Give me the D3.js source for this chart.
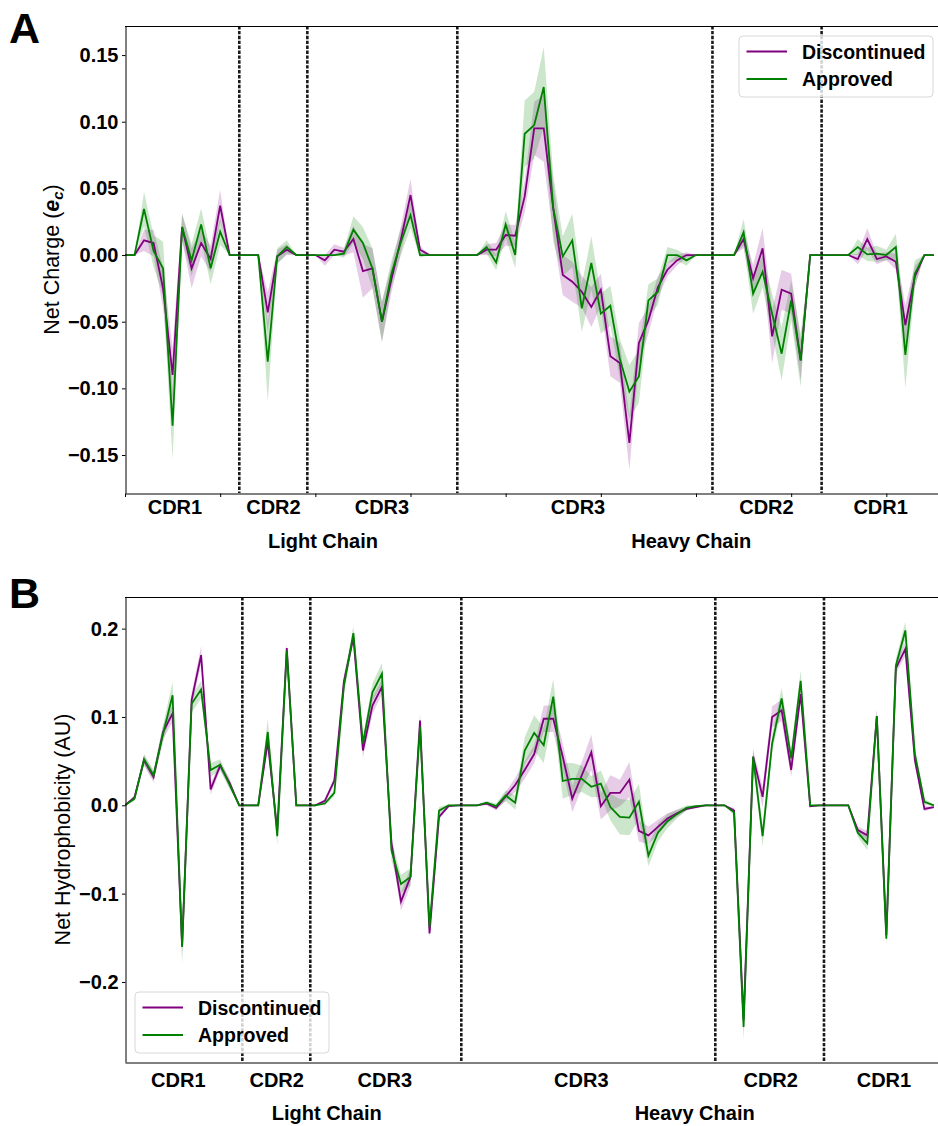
<!DOCTYPE html>
<html>
<head>
<meta charset="utf-8">
<script src="https://cdn.jsdelivr.net/npm/d3@7"></script>
<style>
  body { margin: 0; background: #fff; }
  svg text { font-family: "Liberation Sans", Arial, sans-serif; fill: #000; }
</style>
</head>
<body>
<div id="svg-container"></div>
<script>
// ---- data: per-residue means and CI half-widths (index 0..85) ----

// panel A: net charge
var discA = [
  0, 0, 0.011, 0.009, -0.025, -0.090, 0.021, -0.010, 0.009, -0.003,
  0.037, 0, 0, 0, 0, -0.043, -0.001, 0.004, 0, 0,
  0, -0.004, 0.004, 0.0025, 0.012, -0.012, -0.010, -0.050, -0.018, 0.012,
  0.045, 0.004, 0, 0, 0, 0, 0, 0, 0.004, 0.004,
  0.015, 0.0145, 0.044, 0.095, 0.095, 0.035, -0.015, -0.020, -0.0275, -0.039,
  -0.026, -0.076, -0.081, -0.141, -0.066, -0.049, -0.024, -0.011, -0.004, 0,
  0, 0, 0, 0, 0, 0.012, -0.0175, 0.005, -0.061, -0.026,
  -0.029, -0.079, 0, 0, 0, 0, 0, -0.003, 0.012, -0.003,
  -0.001, -0.005, -0.0525, -0.016, 0, 0
];
var apprA = [
  0, 0, 0.0345, 0.003, -0.010, -0.128, 0.021, -0.004, 0.023, -0.010,
  0.0175, 0, 0, 0, 0, -0.080, -0.001, 0.006, 0, 0,
  0, 0, 0, 0.001, 0.019, 0.009, -0.010, -0.050, -0.014, 0.010,
  0.030, 0, 0, 0, 0, 0, 0, 0, 0.006, -0.0055,
  0.023, 0, 0.091, 0.0975, 0.126, 0.035, -0.001, 0.011, -0.040, -0.006,
  -0.044, -0.038, -0.078, -0.1025, -0.091, -0.034, -0.0275, 0, 0, -0.004,
  0, 0, 0, 0, 0, 0.017, -0.029, -0.0125, -0.044, -0.074,
  -0.034, -0.079, 0, 0, 0, 0, 0, 0.006, 0.0005, 0.001,
  0, 0.006, -0.075, -0.014, 0, 0
];
var discAErr = [
  0, 0, 0.008, 0.01, 0.015, 0.02, 0.01, 0.015, 0.01, 0.01,
  0.012, 0, 0, 0, 0, 0.015, 0.005, 0.004, 0, 0,
  0, 0.004, 0.004, 0.003, 0.01, 0.02, 0.015, 0.015, 0.01, 0.01,
  0.012, 0.003, 0, 0, 0, 0, 0, 0, 0.004, 0.005,
  0.008, 0.008, 0.012, 0.02, 0.025, 0.02, 0.015, 0.015, 0.012, 0.015,
  0.012, 0.015, 0.015, 0.02, 0.015, 0.01, 0.008, 0.005, 0.004, 0.002,
  0, 0, 0, 0, 0, 0.007, 0.01, 0.015, 0.02, 0.015,
  0.015, 0.015, 0, 0, 0, 0, 0, 0.004, 0.008, 0.004,
  0.003, 0.006, 0.015, 0.008, 0, 0
];
var apprAErr = [
  0, 0, 0.013, 0.012, 0.02, 0.025, 0.01, 0.012, 0.012, 0.012,
  0.01, 0, 0, 0, 0, 0.03, 0.006, 0.005, 0, 0,
  0, 0, 0, 0.003, 0.01, 0.012, 0.015, 0.015, 0.01, 0.01,
  0.01, 0.002, 0, 0, 0, 0, 0, 0, 0.005, 0.006,
  0.01, 0.01, 0.025, 0.025, 0.03, 0.025, 0.015, 0.02, 0.018, 0.02,
  0.015, 0.015, 0.015, 0.02, 0.02, 0.012, 0.01, 0.006, 0.004, 0.004,
  0, 0, 0, 0, 0, 0.01, 0.015, 0.012, 0.015, 0.02,
  0.015, 0.02, 0, 0, 0, 0, 0, 0.006, 0.005, 0.006,
  0.004, 0.01, 0.025, 0.01, 0, 0
];

// panel B: net hydrophobicity
var discB = [
  0, 0.009, 0.051, 0.032, 0.083, 0.104, -0.160, 0.119, 0.170, 0.018,
  0.045, 0.025, 0, 0, 0, 0.072, -0.028, 0.178, 0, 0,
  0, 0.005, 0.028, 0.140, 0.190, 0.062, 0.113, 0.134, -0.043, -0.109,
  -0.081, 0.096, -0.145, -0.013, -0.001, 0, 0, 0, 0.002, -0.003,
  0.010, 0.023, 0.040, 0.058, 0.098, 0.098, 0.055, 0.0075, 0.034, 0.060,
  -0.001, 0.014, 0.014, 0.029, -0.029, -0.034, -0.0245, -0.015, -0.009, -0.004,
  -0.002, 0, 0, 0, -0.006, -0.243, 0.055, 0.0095, 0.100, 0.1075,
  0.040, 0.126, -0.001, 0, 0, 0, 0, -0.028, -0.034, 0.101,
  -0.147, 0.155, 0.177, 0.051, -0.004, -0.002
];
var apprB = [
  0, 0.0075, 0.052, 0.034, 0.081, 0.1245, -0.160, 0.115, 0.131, 0.040,
  0.046, 0.023, 0, 0, 0, 0.083, -0.035, 0.175, 0, 0,
  0, 0.002, 0.014, 0.135, 0.195, 0.070, 0.128, 0.149, -0.051, -0.089,
  -0.081, 0.089, -0.138, -0.006, 0, 0, 0, 0, 0.003, -0.001,
  0.011, 0.003, 0.062, 0.082, 0.068, 0.123, 0.0275, 0.030, 0.030, 0.021,
  0.0245, -0.002, -0.013, -0.014, 0.004, -0.057, -0.031, -0.018, -0.010, -0.003,
  -0.001, 0, 0, 0, -0.008, -0.251, 0.055, -0.035, 0.070, 0.121,
  0.053, 0.141, 0, 0, 0, 0, 0, -0.031, -0.043, 0.101,
  -0.151, 0.158, 0.198, 0.058, 0.004, 0
];
var discBErr = [
  0, 0.003, 0.006, 0.006, 0.008, 0.01, 0.01, 0.008, 0.01, 0.006,
  0.005, 0.005, 0, 0, 0, 0.008, 0.005, 0.005, 0, 0,
  0, 0.002, 0.005, 0.008, 0.006, 0.008, 0.01, 0.008, 0.01, 0.01,
  0.01, 0.008, 0.005, 0.003, 0.001, 0, 0, 0, 0.002, 0.003,
  0.005, 0.008, 0.01, 0.01, 0.015, 0.015, 0.015, 0.015, 0.015, 0.02,
  0.015, 0.02, 0.015, 0.02, 0.012, 0.01, 0.008, 0.006, 0.004, 0.002,
  0.001, 0, 0, 0, 0.003, 0.01, 0.008, 0.012, 0.012, 0.012,
  0.008, 0.008, 0.001, 0, 0, 0, 0, 0.004, 0.005, 0.008,
  0.005, 0.006, 0.008, 0.006, 0.003, 0.001
];
var apprBErr = [
  0, 0.003, 0.006, 0.006, 0.01, 0.015, 0.02, 0.01, 0.01, 0.008,
  0.006, 0.005, 0, 0, 0, 0.015, 0.01, 0.005, 0, 0,
  0, 0.002, 0.004, 0.01, 0.008, 0.008, 0.01, 0.012, 0.012, 0.01,
  0.01, 0.01, 0.006, 0.004, 0.001, 0, 0, 0, 0.002, 0.003,
  0.006, 0.008, 0.015, 0.02, 0.02, 0.02, 0.02, 0.018, 0.015, 0.012,
  0.015, 0.015, 0.02, 0.02, 0.02, 0.012, 0.01, 0.008, 0.005, 0.003,
  0.001, 0, 0, 0, 0.004, 0.015, 0.01, 0.012, 0.01, 0.012,
  0.01, 0.012, 0, 0, 0, 0, 0, 0.005, 0.008, 0.006,
  0.008, 0.008, 0.01, 0.008, 0.003, 0.001
];

// region labels and dividers (residue index units)
var cdrNames = ["CDR1", "CDR2", "CDR3", "CDR3", "CDR2", "CDR1"];
var chainNames = ["Light Chain", "Heavy Chain"];
var cdrPosA = [5.25, 15.6, 27.0, 47.6, 67.4, 79.4];
var cdrPosB = [5.6, 15.94, 27.3, 47.95, 67.85, 79.75];
var chainPosA = [20.8, 59.5];
var chainPosB = [21.2, 59.86];
var dividersA = [12.01, 19.16, 34.92, 61.73, 73.2];
var dividersB = [12.33, 19.47, 35.34, 62.03, 73.45];

// y ticks
var yTicksA = [-0.15, -0.10, -0.05, 0, 0.05, 0.10, 0.15];
var yTicksB = [-0.2, -0.1, 0, 0.1, 0.2];
var xTicksA = [0, 10, 20, 30, 40, 50, 60, 70, 80];

var seriesNames = ["Discontinued", "Approved"];
var seriesColors = ["#800080", "#008000"];


// ---- figure ----
var svg = d3.select("#svg-container").append("svg")
  .attr("width", 938)
  .attr("height", 1126);

// shared x scale: residue index -> px
var x = d3.scaleLinear()
  .domain([0, 85.43])
  .range([125, 938]);


function drawPanel(p) {
  var y = d3.scaleLinear()
    .domain(p.yDomain)
    .range([p.bottom, p.top]);

  var g = svg.append("g");

  // clip to plot box
  g.append("clipPath")
    .attr("id", p.id + "-clip")
    .append("rect")
      .attr("x", x.range()[0])
      .attr("y", p.top)
      .attr("width", x.range()[1] - x.range()[0])
      .attr("height", p.bottom - p.top);

  var plot = g.append("g").attr("clip-path", "url(#" + p.id + "-clip)");

  var band = function(vals, errs) {
    return d3.area()
      .x(function(d, i) { return x(i); })
      .y0(function(d, i) { return y(vals[i] - errs[i]); })
      .y1(function(d, i) { return y(vals[i] + errs[i]); })(vals);
  };
  var line = d3.line()
    .x(function(d, i) { return x(i); })
    .y(function(d) { return y(d); });

  // confidence bands then mean lines, discontinued first
  p.series.forEach(function(s, k) {
    plot.append("path")
      .attr("d", band(s.vals, s.errs))
      .attr("fill", seriesColors[k])
      .attr("fill-opacity", 0.2);
  });
  p.series.forEach(function(s, k) {
    plot.append("path")
      .attr("d", line(s.vals))
      .attr("fill", "none")
      .attr("stroke", seriesColors[k])
      .attr("stroke-width", 1.8)
      .attr("stroke-linejoin", "miter");
  });

  // dashed region dividers
  plot.selectAll(".divider")
    .data(p.dividers)
    .enter()
    .append("line")
      .attr("x1", function(d) { return x(d); })
      .attr("x2", function(d) { return x(d); })
      .attr("y1", p.top)
      .attr("y2", p.bottom)
      .attr("stroke", "#1a1a1a")
      .attr("stroke-width", 2.6)
      .attr("stroke-dasharray", "3.4,1.5");

  // top spine
  g.append("line")
    .attr("x1", x.range()[0]).attr("x2", x.range()[1])
    .attr("y1", p.top + 0.5).attr("y2", p.top + 0.5)
    .attr("stroke", "#000").attr("stroke-width", 1);

  // y axis
  var yAxis = d3.axisLeft(y)
    .tickValues(p.yTicks)
    .tickFormat(d3.format(p.fmt))
    .tickSize(3.5)
    .tickPadding(3.5)
    .tickSizeOuter(0);
  var ya = g.append("g")
    .attr("transform", "translate(" + (x.range()[0] + 0.5) + ",0)")
    .call(yAxis);
  ya.selectAll("text")
    .attr("font-size", 20)
    .attr("font-weight", "bold")
    .attr("font-family", "Liberation Sans, Arial, sans-serif");

  // x axis (ticks only on panel A)
  var xAxis = d3.axisBottom(x)
    .tickValues(p.xTicks)
    .tickFormat("")
    .tickSize(3.5)
    .tickSizeOuter(0);
  g.append("g")
    .attr("transform", "translate(0," + (p.bottom + 0.5) + ")")
    .call(xAxis);

  g.selectAll(".domain, .tick line")
    .attr("stroke", "#000")
    .attr("stroke-width", 1);

  // CDR labels
  g.selectAll(".cdr")
    .data(p.cdrPos)
    .enter()
    .append("text")
      .attr("x", function(d) { return x(d); })
      .attr("y", p.cdrY)
      .attr("text-anchor", "middle")
      .attr("font-size", 20)
      .attr("font-weight", "bold")
      .text(function(d, i) { return cdrNames[i]; });

  // chain labels
  g.selectAll(".chain")
    .data(p.chainPos)
    .enter()
    .append("text")
      .attr("x", function(d) { return x(d); })
      .attr("y", p.chainY)
      .attr("text-anchor", "middle")
      .attr("font-size", 20)
      .attr("font-weight", "bold")
      .text(function(d, i) { return chainNames[i]; });

  // y label
  var yl = g.append("text")
    .attr("transform", "translate(" + p.ylabelX + "," + ((p.top + p.bottom) / 2) + ") rotate(-90)")
    .attr("text-anchor", "middle")
    .attr("font-size", 21.5);
  p.ylabel(yl);

  // panel letter
  g.append("text")
    .attr("x", 9)
    .attr("y", p.letterY)
    .attr("font-size", 43)
    .attr("font-weight", "bold")
    .text(p.letter);

  // legend
  var lg = g.append("g")
    .attr("transform", "translate(" + p.legend[0] + "," + p.legend[1] + ")");
  lg.append("rect")
    .attr("width", 194)
    .attr("height", 61)
    .attr("rx", 4)
    .attr("fill", "#fff")
    .attr("fill-opacity", 0.8)
    .attr("stroke", "#d8d8d8")
    .attr("stroke-width", 1);
  seriesNames.forEach(function(name, k) {
    var ly = 15.5 + k * 27.5;
    lg.append("line")
      .attr("x1", 7.5).attr("x2", 48)
      .attr("y1", ly).attr("y2", ly)
      .attr("stroke", seriesColors[k])
      .attr("stroke-width", 1.8);
    lg.append("text")
      .attr("x", 63)
      .attr("y", ly + 7)
      .attr("font-size", 19.5)
      .attr("font-weight", "bold")
      .text(name);
  });
}


drawPanel({
  id: "A",
  letter: "A",
  letterY: 43,
  top: 26,
  bottom: 493,
  yDomain: [-0.1785, 0.1718],
  yTicks: yTicksA,
  xTicks: xTicksA,
  fmt: ".2f",
  series: [{ vals: discA, errs: discAErr }, { vals: apprA, errs: apprAErr }],
  dividers: dividersA,
  cdrPos: cdrPosA,
  chainPos: chainPosA,
  cdrY: 514,
  chainY: 548,
  ylabelX: 59,
  legend: [739, 36],
  ylabel: function(t) {
    t.append("tspan").text("Net Charge (");
    t.append("tspan").attr("font-weight", "bold").attr("font-style", "italic").text("e");
    t.append("tspan").attr("font-weight", "bold").attr("font-style", "italic")
      .attr("font-size", 15).attr("dy", 4).text("c");
    t.append("tspan").attr("dy", -4).text(")");
  }
});

drawPanel({
  id: "B",
  letter: "B",
  letterY: 608,
  top: 597,
  bottom: 1062,
  yDomain: [-0.2906, 0.2358],
  yTicks: yTicksB,
  xTicks: [],
  fmt: ".1f",
  series: [{ vals: discB, errs: discBErr }, { vals: apprB, errs: apprBErr }],
  dividers: dividersB,
  cdrPos: cdrPosB,
  chainPos: chainPosB,
  cdrY: 1087,
  chainY: 1120,
  ylabelX: 70,
  legend: [135, 992],
  ylabel: function(t) {
    t.text("Net Hydrophobicity (AU)");
  }
});
</script>
</body>
</html>
